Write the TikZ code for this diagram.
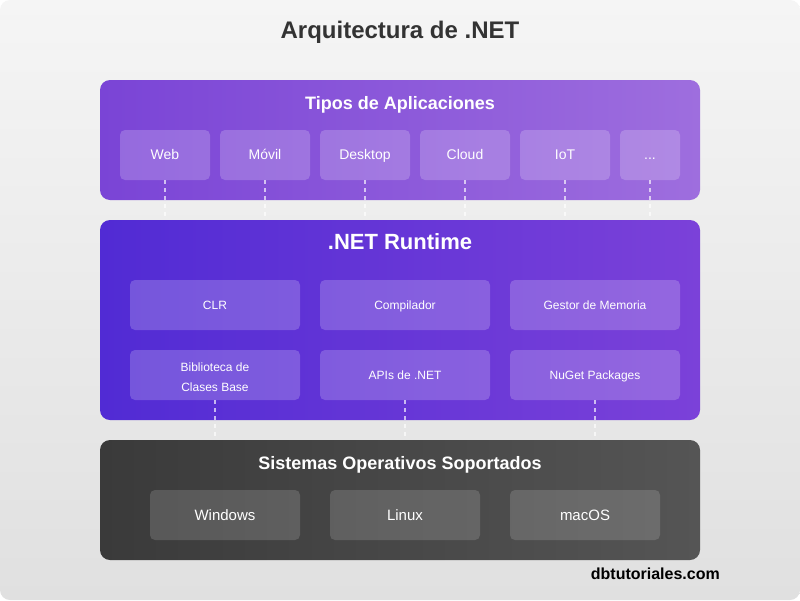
\documentclass[tikz,border=0pt]{standalone}
\usepackage{fontspec}
\setmainfont{Liberation Sans}
\usetikzlibrary{positioning}
\definecolor{bgtop}{HTML}{F5F5F5}
\definecolor{bgbot}{HTML}{E0E0E0}
\definecolor{appL}{HTML}{7A44D6}
\definecolor{appR}{HTML}{9E6EDE}
\definecolor{rtL}{HTML}{512BD4}
\definecolor{rtR}{HTML}{7B41D9}
\definecolor{osL}{HTML}{3A3A3A}
\definecolor{osR}{HTML}{555555}
\definecolor{titlec}{HTML}{333333}
\tikzset{
  layer/.style={rounded corners=10pt, minimum width=600pt, inner sep=0pt, draw=none},
  appbox/.style={text height=9.8pt, text depth=0pt, rounded corners=5pt, fill=white, fill opacity=0.2, text opacity=1, text=white, minimum height=50pt, inner sep=0pt, font=\fontsize{14}{16}\selectfont},
  rtbox/.style={rounded corners=5pt, fill=white, fill opacity=0.2, text opacity=1, text=white, minimum width=170pt, minimum height=50pt, inner sep=0pt, align=center, font=\fontsize{12}{20}\selectfont},
  rtone/.style={rtbox, text height=8.4pt, text depth=0pt},
  osbox/.style={text height=10.5pt, text depth=0pt, rounded corners=5pt, fill=white, fill opacity=0.15, text opacity=1, text=white, minimum width=150pt, minimum height=50pt, inner sep=0pt, font=\fontsize{15}{17}\selectfont},
  layertitle/.style={text height=12.6pt, text depth=0pt, inner sep=0pt, text=white, font=\bfseries\fontsize{18}{20}\selectfont},
  conn/.style={draw=white, draw opacity=0.65, line width=1.5pt, dash pattern=on 4pt off 4pt}
}
\begin{document}
\begin{tikzpicture}[x=1pt,y=-1pt]
\useasboundingbox (0,0) rectangle (800,600);
\fill[white] (0,0) rectangle (800,600);
\shade[top color=bgtop, bottom color=bgbot, rounded corners=10pt] (0,0) rectangle (800,600);
\node[text height=16.8pt, text depth=0pt, inner sep=0pt, text=titlec, font=\bfseries\fontsize{24}{26}\selectfont] (title) at (400,30.5) {Arquitectura de .NET};

% top layer
\node[layer, shade, left color=appL, right color=appR, minimum height=120pt] (apps) at (400,140) {};
\node[layertitle] (appst) at (400,103) {Tipos de Aplicaciones};
\node[appbox, minimum width=90pt] (web) at (165,155) {Web};
\node[appbox, minimum width=90pt] (movil) at (265,155) {Móvil};
\node[appbox, minimum width=90pt] (desk) at (365,155) {Desktop};
\node[appbox, minimum width=90pt] (cloud) at (465,155) {Cloud};
\node[appbox, minimum width=90pt] (iot) at (565,155) {IoT};
\node[appbox, minimum width=60pt] (more) at (650,155) {.{}.{}.};

% runtime layer
\node[layer, shade, left color=rtL, right color=rtR, minimum height=200pt] (rt) at (400,320) {};
\node[text height=15.4pt, text depth=0pt, inner sep=0pt, text=white, font=\bfseries\fontsize{22}{24}\selectfont] (rtt) at (400,242) {.NET Runtime};
\node[rtone] (clr) at (215,305) {CLR};
\node[rtone] (comp) at (405,305) {Compilador};
\node[rtone] (mem) at (595,305) {Gestor de Memoria};
\node[rtbox] (bcl) at (215,375) {};
\node[align=center, text=white, inner sep=0pt, font=\fontsize{12}{20}\selectfont] (bclt) at (215,377) {Biblioteca de\\Clases Base};
\node[rtone] (api) at (405,375) {APIs de .NET};
\node[rtone] (nuget) at (595,375) {NuGet Packages};

% OS layer
\node[layer, shade, left color=osL, right color=osR, minimum height=120pt] (os) at (400,500) {};
\node[layertitle] (ost) at (400,463) {Sistemas Operativos Soportados};
\node[osbox] (win) at (225,515) {Windows};
\node[osbox] (linux) at (405,515) {Linux};
\node[osbox] (mac) at (585,515) {macOS};

% connectors
\foreach \n in {web,movil,desk,cloud,iot,more}
  \draw[conn] (\n.south) -- (\n.south |- rt.north);
\foreach \n in {bcl,api,nuget}
  \draw[conn] (\n.south) -- (\n.south |- os.north);

\node[text height=11.2pt, text depth=0pt, anchor=east, inner sep=0pt, text=black, font=\bfseries\fontsize{16}{18}\selectfont] (wm) at (720,573.4) {dbtutoriales.com};
\end{tikzpicture}
\end{document}
